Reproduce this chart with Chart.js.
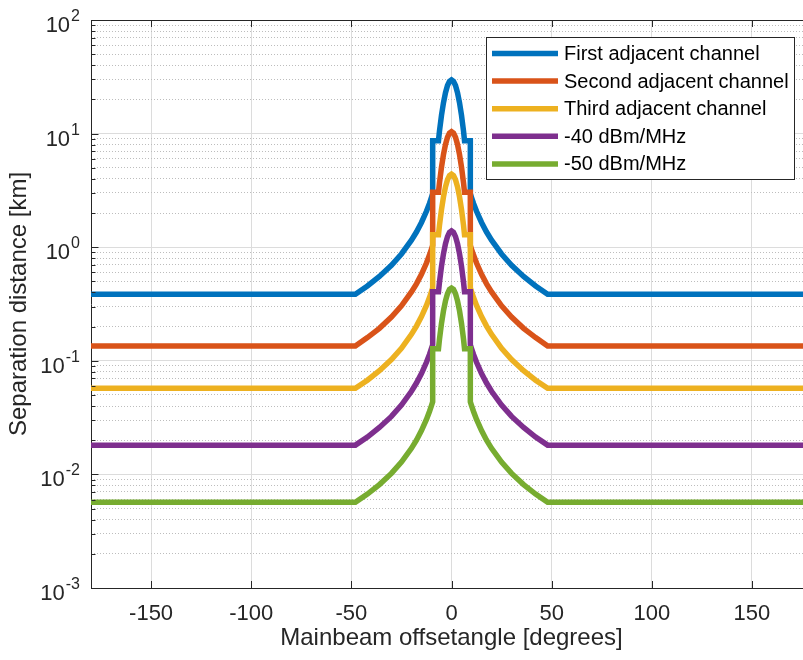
<!DOCTYPE html>
<html>
<head>
<meta charset="utf-8">
<script src="https://cdn.jsdelivr.net/npm/chart.js@4.4.1/dist/chart.umd.min.js"></script>
<style>
  html, body { margin: 0; padding: 0; overflow: hidden; background: #fff; }
  canvas { display: block; }
</style>
</head>
<body>
<canvas id="chart" width="813" height="660"></canvas>
<script>
// --- data: separation distance [km] vs mainbeam offset angle [deg] ---
const angles = [-180, -48, -42, -36, -30, -25, -20, -17.5, -15, -12.5, -11, -10, -9.4, -9.4, -6.5, -6, -5, -4, -3, -2, -1,
    0,
    1, 2, 3, 4, 5, 6, 6.5, 9.4, 9.4, 10, 11, 12.5, 15, 17.5, 20, 25, 30, 36, 42, 48, 180];

const firstAdj = [0.386, 0.386, 0.456, 0.552, 0.693, 0.872, 1.152, 1.36, 1.65, 2.07, 2.43, 2.74, 2.96, 8.67, 8.67, 10.54, 14.46, 18.74, 22.92, 26.47, 28.86,
    29.7,
    28.86, 26.47, 22.92, 18.74, 14.46, 10.54, 8.67, 8.67, 2.96, 2.74, 2.43, 2.07, 1.65, 1.36, 1.152, 0.872, 0.693, 0.552, 0.456, 0.386, 0.386];

const secondAdj = [0.135, 0.135, 0.160, 0.193, 0.243, 0.305, 0.404, 0.476, 0.578, 0.726, 0.852, 0.960, 1.036, 3.04, 3.04, 3.69, 5.06, 6.56, 8.03, 9.27, 10.10,
    10.4,
    10.10, 9.27, 8.03, 6.56, 5.06, 3.69, 3.04, 3.04, 1.036, 0.960, 0.852, 0.726, 0.578, 0.476, 0.404, 0.305, 0.243, 0.193, 0.160, 0.135, 0.135];

const thirdAdj = [0.0572, 0.0572, 0.0675, 0.0818, 0.1027, 0.129, 0.171, 0.202, 0.245, 0.307, 0.360, 0.406, 0.438, 1.285, 1.285, 1.56, 2.14, 2.78, 3.40, 3.92, 4.27,
    4.4,
    4.27, 3.92, 3.40, 2.78, 2.14, 1.56, 1.285, 1.285, 0.438, 0.406, 0.360, 0.307, 0.245, 0.202, 0.171, 0.129, 0.1027, 0.0818, 0.0675, 0.0572, 0.0572];

const minus40 = [0.0181, 0.0181, 0.0213, 0.0259, 0.0324, 0.0408, 0.0539, 0.0637, 0.0773, 0.0970, 0.1138, 0.1283, 0.1384, 0.406, 0.406, 0.493, 0.677, 0.877, 1.073, 1.239, 1.351,
    1.39,
    1.351, 1.239, 1.073, 0.877, 0.677, 0.493, 0.406, 0.406, 0.1384, 0.1283, 0.1138, 0.0970, 0.0773, 0.0637, 0.0539, 0.0408, 0.0324, 0.0259, 0.0213, 0.0181, 0.0181];

const minus50 = [0.00568, 0.00568, 0.00671, 0.00813, 0.01020, 0.01283, 0.01696, 0.0200, 0.0243, 0.0305, 0.0358, 0.0403, 0.0435, 0.1276, 0.1276, 0.155, 0.213, 0.276, 0.337, 0.389, 0.425,
    0.437,
    0.425, 0.389, 0.337, 0.276, 0.213, 0.155, 0.1276, 0.1276, 0.0435, 0.0403, 0.0358, 0.0305, 0.0243, 0.0200, 0.01696, 0.01283, 0.01020, 0.00813, 0.00671, 0.00568, 0.00568];

const seriesNames = ['First adjacent channel', 'Second adjacent channel', 'Third adjacent channel', '-40 dBm/MHz', '-50 dBm/MHz'];
const seriesData = [firstAdj, secondAdj, thirdAdj, minus40, minus50];
const seriesColors = ['#0072BD', '#D95319', '#EDB120', '#7E2F8E', '#77AC30'];

const xTicks = [-150, -100, -50, 0, 50, 100, 150];
const yExponents = [-3, -2, -1, 0, 1, 2];

const FONT = "'Liberation Sans', Arial, sans-serif";
const AXIS = '#262626';

// decades for the solid grid, 2..9 steps for the dotted one
const yMajor = yExponents.map(e => Math.pow(10, e));
const yMinor = [];
yExponents.slice(0, -1).forEach(e => {
    for (let m = 2; m <= 9; m++) yMinor.push(m * Math.pow(10, e));
});

// box on top, inward tick marks and 10^n labels
const axesBox = {
    id: 'axesBox',
    afterDatasetsDraw(chart) {
        const {ctx, chartArea: a, scales} = chart;
        ctx.save();
        ctx.strokeStyle = AXIS;
        ctx.lineWidth = 1;
        ctx.beginPath();
        const top = Math.round(a.top) + 0.5;
        const left = Math.round(a.left) + 0.5;
        ctx.moveTo(a.left, top);
        ctx.lineTo(a.right, top);
        xTicks.forEach(v => {
            const px = Math.round(scales.x.getPixelForValue(v)) + 0.5;
            ctx.moveTo(px, a.bottom);
            ctx.lineTo(px, a.bottom - 7);
            ctx.moveTo(px, a.top);
            ctx.lineTo(px, a.top + 7);
        });
        yMajor.forEach(v => {
            const py = Math.round(scales.y.getPixelForValue(v)) + 0.5;
            ctx.moveTo(left, py);
            ctx.lineTo(left + 7, py);
        });
        yMinor.forEach(v => {
            const py = Math.round(scales.y.getPixelForValue(v)) + 0.5;
            ctx.moveTo(left, py);
            ctx.lineTo(left + 4, py);
        });
        ctx.stroke();

        ctx.fillStyle = AXIS;
        ctx.textBaseline = 'alphabetic';
        ctx.textAlign = 'right';
        yExponents.forEach(e => {
            const py = scales.y.getPixelForValue(Math.pow(10, e));
            const exp = String(e);
            ctx.font = `16px ${FONT}`;
            const w = ctx.measureText(exp).width;
            ctx.fillText(exp, 80, py + 1);
            ctx.font = `22px ${FONT}`;
            ctx.fillText('10', 80 - w - 1, py + 12);
        });
        ctx.restore();
    }
};

const legendBox = {
    id: 'legendBox',
    afterDraw(chart) {
        const ctx = chart.ctx;
        const bx = 486, by = 37, bw = 308, bh = 142;
        ctx.save();
        ctx.fillStyle = '#fff';
        ctx.fillRect(bx, by, bw, bh);
        ctx.strokeStyle = AXIS;
        ctx.lineWidth = 1;
        ctx.strokeRect(bx + 0.5, by + 0.5, bw, bh);
        ctx.font = `20px ${FONT}`;
        ctx.textBaseline = 'middle';
        ctx.textAlign = 'left';
        chart.data.datasets.forEach((ds, i) => {
            const y = by + 16.5 + i * 27.6;
            ctx.strokeStyle = ds.borderColor;
            ctx.lineWidth = 5.5;
            ctx.beginPath();
            ctx.moveTo(492, y);
            ctx.lineTo(558, y);
            ctx.stroke();
            ctx.fillStyle = '#000';
            ctx.fillText(ds.label, 564, y + 1);
        });
        ctx.restore();
    }
};

const datasets = seriesNames.map((name, i) => ({
    label: name,
    data: angles.map((a, j) => ({x: a, y: seriesData[i][j]})),
    borderColor: seriesColors[i],
    backgroundColor: seriesColors[i],
    borderWidth: 5.5,
    pointRadius: 0,
    tension: 0,
    fill: false,
    order: seriesNames.length - i
}));

const ctx = document.getElementById('chart').getContext('2d');
const chart = new Chart(ctx, {
    type: 'line',
    data: {datasets: datasets},
    options: {
        responsive: false,
        animation: false,
        events: [],
        layout: {padding: {top: 20, right: 1, left: 0, bottom: 0}},
        plugins: {
            legend: {display: false},
            tooltip: {enabled: false}
        },
        scales: {
            x: {
                type: 'linear',
                min: -180,
                max: 180,
                afterBuildTicks: s => { s.ticks = xTicks.map(v => ({value: v})); },
                afterFit: s => { s.height = 72; },
                grid: {color: '#dcdcdc', drawTicks: false},
                border: {color: AXIS, width: 1},
                ticks: {
                    color: AXIS,
                    padding: 13,
                    font: {family: FONT, size: 22},
                    maxRotation: 0,
                    autoSkip: false
                },
                title: {
                    display: true,
                    text: 'Mainbeam offsetangle [degrees]',
                    color: AXIS,
                    font: {family: FONT, size: 24},
                    padding: {top: 0, bottom: 7}
                }
            },
            y: {
                type: 'logarithmic',
                min: 0.001,
                max: 100,
                afterBuildTicks: s => { s.ticks = yMajor.map(v => ({value: v})); },
                afterFit: s => { s.width = 91; },
                grid: {color: '#dcdcdc', drawTicks: false},
                border: {color: AXIS, width: 1},
                ticks: {display: false},
                title: {
                    display: true,
                    text: 'Separation distance [km]',
                    color: AXIS,
                    font: {family: FONT, size: 24},
                    padding: {top: 5, bottom: 0}
                }
            },
            yMinor: {
                type: 'logarithmic',
                position: 'left',
                min: 0.001,
                max: 100,
                afterBuildTicks: s => { s.ticks = yMinor.map(v => ({value: v})); },
                afterFit: s => { s.width = 0; },
                grid: {color: '#bdbdbd', drawTicks: false},
                border: {display: false, dash: [1, 2]},
                ticks: {display: false}
            }
        }
    },
    plugins: [axesBox, legendBox]
});
</script>
</body>
</html>
